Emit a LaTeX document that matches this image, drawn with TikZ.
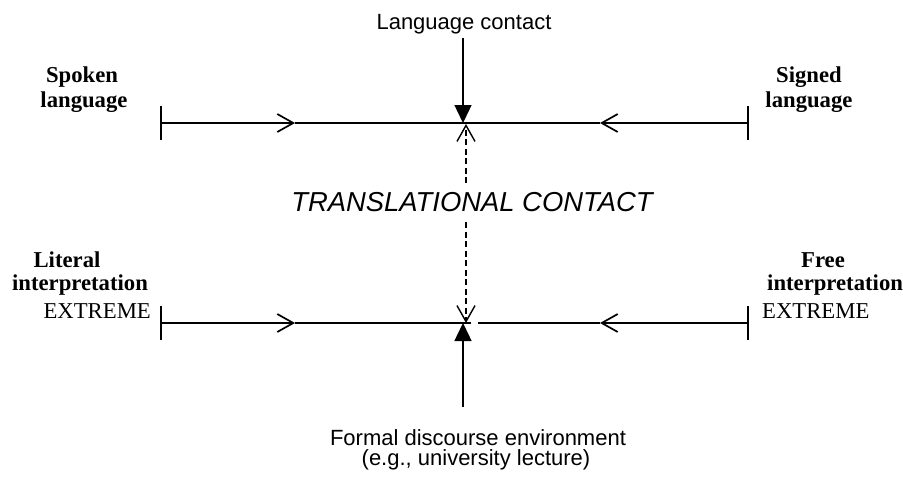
\documentclass[tikz,border=0pt]{standalone}
\usepackage{fontspec}
\setmainfont{Liberation Serif}
\setsansfont{Liberation Sans}
\usetikzlibrary{arrows.meta}
\begin{document}
\begin{tikzpicture}[x=1pt,y=-1pt,
  mainline/.style={line width=1.7pt},
  tickline/.style={line width=1.7pt},
  vline/.style={line width=1.4pt},
  openhead/.style={-{Straight Barb[length=16pt,width=18pt]}},
  filledhead/.style={-{Triangle[length=18pt,width=17pt]}},
  dashline/.style={line width=1.4pt,dash pattern=on 6pt off 3.5pt},
  lbl/.style={inner sep=0pt,anchor=base},
  sflbl/.style={lbl,font=\fontsize{22}{25}\selectfont\sffamily},
  bflbl/.style={lbl,font=\fontsize{22.7}{25}\selectfont\bfseries},
  rmlbl/.style={lbl,font=\fontsize{22.7}{25}\selectfont}
]
\useasboundingbox (0,0) rectangle (903,485);

% coordinates of the two scales
\coordinate (L1) at (161,123);
\coordinate (M1a) at (295,123);
\coordinate (C1) at (463,123);
\coordinate (M1b) at (600,123);
\coordinate (R1) at (748,123);
\coordinate (L1t) at (161,106);
\coordinate (L1b) at (161,140);
\coordinate (R1t) at (748,106);
\coordinate (R1b) at (748,140);

\coordinate (L2) at (161,323);
\coordinate (M2a) at (295,323);
\coordinate (C2) at (463,323);
\coordinate (G2) at (471,323);
\coordinate (G2b) at (478,323);
\coordinate (M2b) at (600,323);
\coordinate (R2) at (748,323);
\coordinate (L2t) at (161,306);
\coordinate (L2b) at (161,340);
\coordinate (R2t) at (748,306);
\coordinate (R2b) at (748,340);

\coordinate (lcs) at (463,38);
\coordinate (fds) at (463,407);
\coordinate (D1s) at (466,183);
\coordinate (D1) at (466,124);
\coordinate (D2s) at (466,222);
\coordinate (D2) at (466,323);

% texts
\node[sflbl] (lc) at (464,29) {Language contact};
\node[lbl,font=\fontsize{27.4}{30}\selectfont\sffamily\itshape] (tc) at (472,211) {TRANSLATIONAL CONTACT};
\node[sflbl] (fd1) at (478,445) {Formal discourse environment};
\node[sflbl] (fd2) at (476,465) {(e.g., university lecture)};

\node[bflbl] (sp1) at (82,82) {Spoken};
\node[bflbl] (sp2) at (84,107) {language};
\node[bflbl] (sg1) at (809,82) {Signed};
\node[bflbl] (sg2) at (809,107) {language};

\node[bflbl] (lit1) at (67,267) {Literal};
\node[bflbl] (lit2) at (80,290) {interpretation};
\node[rmlbl,anchor=base east] (lit3) at (151,318) {EXTREME};
\node[bflbl] (fr1) at (823,267) {Free};
\node[bflbl,anchor=base west] (fr2) at (767,290) {interpretation};
\node[rmlbl,anchor=base west] (fr3) at (762,318) {EXTREME};

% top scale
\draw[tickline] (L1t) -- (L1b);
\draw[tickline] (R1t) -- (R1b);
\draw[mainline,openhead] (L1) -- (M1a);
\draw[mainline] (M1a) -- (M1b);
\draw[mainline,openhead] (R1) -- (M1b);

% bottom scale
\draw[tickline] (L2t) -- (L2b);
\draw[tickline] (R2t) -- (R2b);
\draw[mainline,openhead] (L2) -- (M2a);
\draw[mainline] (M2a) -- (G2);
\draw[mainline] (G2b) -- (M2b);
\draw[mainline,openhead] (R2) -- (M2b);

% vertical arrows
\draw[vline,filledhead] (lcs) -- (C1);
\draw[vline,filledhead] (fds) -- (C2);
\draw[dashline,openhead] (D1s) -- (D1);
\draw[dashline,openhead] (D2s) -- (D2);
\end{tikzpicture}
\end{document}
